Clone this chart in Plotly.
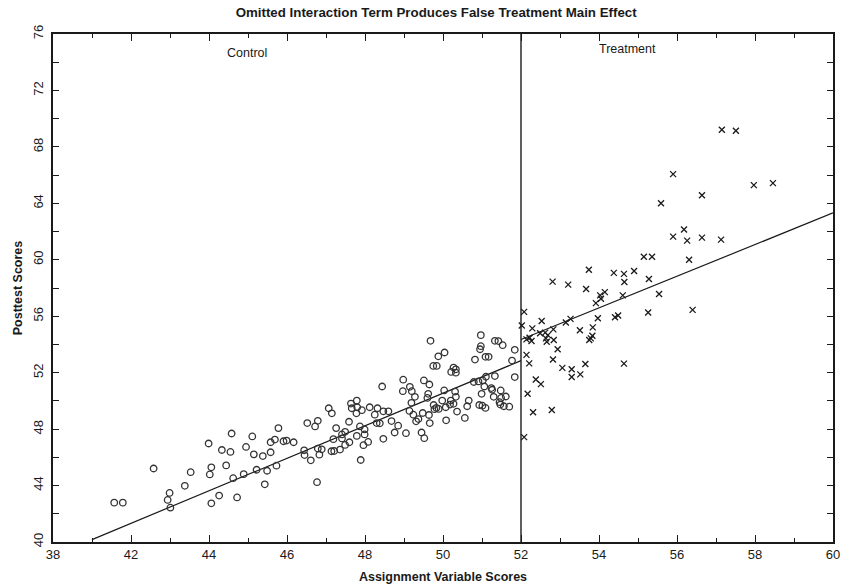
import plotly.graph_objects as go

# ---------------- data ----------------
control_x = [
    44.58, 45.11, 43.99, 44.33, 44.55, 44.95, 45.15, 42.58, 44.06, 44.44,
    43.53, 44.02, 44.62, 44.89, 43.38, 42.99, 42.94, 43.01, 44.26, 44.72,
    44.06, 41.57, 41.79,
    48.44, 47.07, 47.15, 47.64, 47.79, 47.66, 47.80, 47.92, 47.78, 48.12,
    48.32, 48.47, 48.25, 46.52, 46.79, 46.72, 47.59, 48.30, 48.38, 47.26,
    47.87, 47.99, 47.49, 47.41, 47.79, 47.99, 47.19, 47.41, 47.60, 47.49,
    47.36, 47.21, 47.14, 48.08, 47.96, 48.47, 45.78, 45.69, 45.58, 45.91,
    45.99, 46.17, 45.58, 45.38, 46.44, 46.45, 46.79, 46.89, 46.83, 46.61,
    47.89, 45.73, 45.49, 45.22, 45.43, 46.77,
    50.97, 49.68, 51.33, 51.42, 50.97, 50.95, 51.53, 51.84, 50.04, 49.88,
    51.09, 51.17, 50.82, 51.77, 49.75, 49.84, 50.27, 50.33, 50.21, 50.33,
    51.84, 51.33, 51.10, 51.02, 50.79, 50.91, 48.98, 49.51, 49.65, 49.15,
    51.06, 51.24, 51.26, 48.97, 49.20, 50.03, 50.31, 51.48, 49.62, 50.99,
    51.30, 51.49, 51.61, 49.28, 49.60, 50.33, 50.20, 49.98, 50.66, 51.45,
    49.19, 49.76, 50.18, 50.27, 50.93, 51.01, 51.09, 50.62, 51.47, 51.56,
    51.70, 49.83, 49.78, 49.89, 50.07, 49.14, 49.48, 49.64, 49.24, 50.36,
    50.56, 48.60, 49.37, 49.31, 49.66, 50.08, 48.68, 48.85, 48.76, 49.05,
    49.45, 49.52,
]
control_y = [
    47.69, 47.48, 46.98, 46.52, 46.38, 46.74, 46.21, 45.21, 45.29, 45.43,
    44.95, 44.79, 44.52, 44.81, 43.98, 43.48, 42.98, 42.43, 43.29, 43.16,
    42.74, 42.79, 42.79,
    51.02, 49.48, 49.12, 49.81, 50.02, 49.48, 49.55, 49.34, 49.12, 49.55,
    49.48, 49.26, 49.02, 48.43, 48.59, 48.19, 48.52, 48.43, 48.41, 48.07,
    48.19, 47.98, 47.81, 47.62, 47.52, 47.62, 47.29, 47.34, 47.07, 46.88,
    46.55, 46.45, 46.43, 47.09, 46.86, 47.31, 48.07, 47.26, 47.07, 47.14,
    47.19, 47.07, 46.36, 46.09, 46.50, 46.16, 46.62, 46.57, 46.19, 45.79,
    45.81, 45.41, 45.05, 45.12, 44.09, 44.24,
    54.66, 54.26, 54.26, 54.24, 53.88, 53.66, 53.95, 53.62, 53.43, 53.16,
    53.12, 53.12, 52.93, 52.86, 52.48, 52.48, 52.36, 52.24, 52.05, 52.00,
    51.69, 51.76, 51.71, 51.45, 51.34, 51.38, 51.50, 51.45, 51.16, 51.00,
    51.02, 50.91, 50.79, 50.69, 50.69, 50.74, 50.66, 50.74, 50.50, 50.50,
    50.29, 50.21, 50.31, 50.29, 50.21, 50.29, 50.02, 50.02, 50.02, 49.91,
    49.86, 49.71, 49.74, 49.79, 49.71, 49.66, 49.50, 49.62, 49.74, 49.62,
    49.59, 49.50, 49.41, 49.43, 49.55, 49.29, 49.14, 49.00, 49.02, 49.24,
    48.79, 49.26, 48.71, 48.55, 48.43, 48.62, 48.57, 48.24, 47.76, 47.71,
    47.76, 47.36,
]

treatment_x = [
    52.81, 53.21, 53.67, 54.65, 55.28, 54.15, 54.03, 54.05, 53.92, 54.61,
    55.26, 54.41, 54.49, 53.97, 52.08, 52.53, 53.27, 53.15, 52.02, 52.29,
    53.84, 53.51, 52.83, 52.62, 52.49, 52.69, 53.83, 53.79, 52.22, 52.14,
    52.27, 52.64, 52.66, 52.84, 53.75, 52.94, 52.14, 52.21, 52.82, 53.65,
    54.64, 53.06, 53.30, 53.30, 53.52, 52.38, 52.51, 52.17, 52.31, 52.79,
    52.08,
    57.15, 57.51, 55.90, 55.59, 57.97, 58.46, 56.64, 56.18, 55.90, 56.26,
    56.64, 57.13, 56.31, 55.15, 55.36, 53.74, 54.38, 54.64, 54.90, 55.54,
    56.40,
]
treatment_y = [
    58.45, 58.24, 57.93, 58.43, 58.64, 57.71, 57.48, 57.24, 56.93, 57.48,
    56.26, 55.93, 56.05, 55.86, 56.31, 55.66, 55.81, 55.55, 55.34, 55.14,
    55.21, 55.00, 55.07, 54.84, 54.79, 54.66, 54.62, 54.43, 54.48, 54.36,
    54.24, 54.43, 54.19, 54.31, 54.31, 53.66, 53.26, 52.66, 52.93, 52.62,
    52.64, 52.34, 52.24, 51.69, 51.88, 51.52, 51.19, 50.50, 49.19, 49.36,
    47.43,
    69.21, 69.14, 66.07, 64.00, 65.29, 65.43, 64.57, 62.14, 61.64, 61.36,
    61.57, 61.43, 60.00, 60.21, 60.21, 59.29, 59.07, 59.00, 59.21, 57.57,
    56.45,
]

control_fit_x = [41.0, 52.0]
control_fit_y = [40.17, 52.85]
treatment_fit_x = [52.0, 60.0]
treatment_fit_y = [54.35, 63.32]

cutoff_x = [52, 52]
cutoff_y = [40, 76]

x_tick_vals = [40, 42, 44, 46, 48, 50, 52, 54, 56, 58, 60]
x_tick_text = ["38", "42", "44", "46", "48", "50", "52", "54", "56", "58", "60"]
y_tick_vals = [40, 44, 48, 52, 56, 60, 64, 68, 72, 76]

title_text = "Omitted Interaction Term Produces False Treatment Main Effect"
x_title = "Assignment Variable Scores"
y_title = "Posttest Scores"

# ---------------- figure ----------------
ink = "#1a1a1a"
fig = go.Figure()

fig.add_trace(go.Scatter(
    x=cutoff_x, y=cutoff_y, mode="lines",
    line=dict(color=ink, width=1.4), hoverinfo="skip", showlegend=False))
fig.add_trace(go.Scatter(
    x=control_fit_x, y=control_fit_y, mode="lines",
    line=dict(color=ink, width=1.2), showlegend=False))
fig.add_trace(go.Scatter(
    x=treatment_fit_x, y=treatment_fit_y, mode="lines",
    line=dict(color=ink, width=1.2), showlegend=False))
fig.add_trace(go.Scatter(
    x=control_x, y=control_y, mode="markers", name="Control",
    marker=dict(symbol="circle-open", size=6.5, color="#333333",
                line=dict(width=1.3, color="#333333")),
    showlegend=False))
fig.add_trace(go.Scatter(
    x=treatment_x, y=treatment_y, mode="markers", name="Treatment",
    marker=dict(symbol="x-thin-open", size=6, color=ink,
                line=dict(width=1.3, color=ink)),
    showlegend=False))

font_family = "Liberation Sans, Arial, sans-serif"

fig.update_layout(
    width=842, height=586,
    paper_bgcolor="white", plot_bgcolor="white",
    margin=dict(l=53, r=9, t=34, b=44),
    font=dict(family=font_family, color=ink, size=13),
    title=dict(text="<b>" + title_text + "</b>", x=0.518, xanchor="center",
               yref="container", y=0.979, yanchor="middle",
               font=dict(size=13.3)),
    annotations=[
        dict(text="Control", x=44.97, y=74.65, xref="x", yref="y",
             showarrow=False, font=dict(size=12.5)),
        dict(text="Treatment", x=54.73, y=74.95, xref="x", yref="y",
             showarrow=False, font=dict(size=12.5)),
    ],
)

fig.update_xaxes(
    range=[40, 60], showgrid=False, zeroline=False, automargin=False,
    showline=True, linecolor=ink, linewidth=1.5, mirror="ticks",
    ticks="inside", ticklen=7, tickwidth=1, tickcolor=ink,
    tickvals=x_tick_vals, ticktext=x_tick_text,
    tickfont=dict(size=13), ticklabelstandoff=0,
    minor=dict(dtick=1, ticks="inside", ticklen=4, tickcolor=ink, tickwidth=1),
    title=dict(text="<b>" + x_title + "</b>", font=dict(size=12.5), standoff=11),
)
fig.update_yaxes(
    range=[40, 76], showgrid=False, zeroline=False, automargin=False,
    showline=True, linecolor=ink, linewidth=1.5, mirror="ticks",
    ticks="inside", ticklen=6, tickwidth=1, tickcolor=ink,
    tickvals=y_tick_vals, tickangle=-90,
    tickfont=dict(size=13), ticklabelstandoff=3,
    minor=dict(dtick=2, ticks="inside", ticklen=6, tickcolor=ink, tickwidth=1),
    title=dict(text="<b>" + y_title + "</b>", font=dict(size=12.5), standoff=6),
)

# remove the browser's default 8px page margin so the figure sits at (0, 0)
fig.write_html("out.html",
               config={"displayModeBar": False},
               post_script="document.body.style.margin='0';")
